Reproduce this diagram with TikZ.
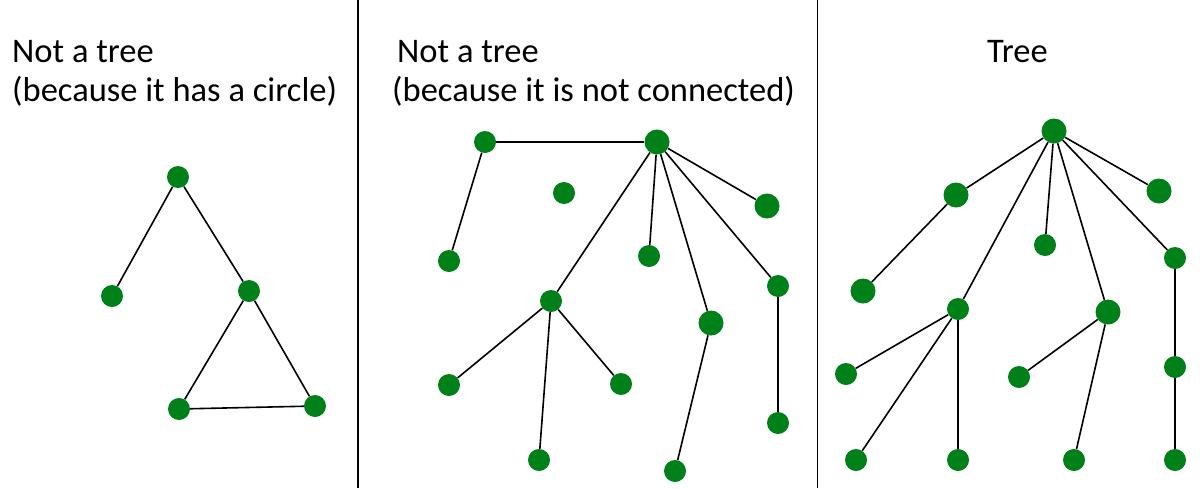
\documentclass[tikz,border=0pt]{standalone}
\usepackage{fontspec}
\setmainfont{Carlito}
\usepackage{tikz}
\definecolor{dotgreen}{RGB}{0,128,24}
\tikzset{
  dot/.style={circle,fill=dotgreen,inner sep=0pt,minimum size=22pt},
  bigdot/.style={dot,minimum size=25pt},
  edge/.style={line width=1.6pt,black},
  caption/.style={anchor=base west,inner sep=0pt,font=\fontsize{34.5}{41}\selectfont}
}
\begin{document}
\begin{tikzpicture}[x=1pt,y=-1pt]
\useasboundingbox (0,0) rectangle (1200,488);
% panel borders
\coordinate (top1) at (358,0);
\coordinate (bot1) at (358,488);
\coordinate (top2) at (817.5,0);
\coordinate (bot2) at (817.5,488);
\draw[line width=1.8pt] (top1)--(bot1);
\draw[line width=1.8pt] (top2)--(bot2);
% captions
\node[caption] (t1a) at (12,62) {Not a tree};
\node[caption] (t1b) at (12,101) {(because it has a circle)};
\node[caption] (t2a) at (397,62) {Not a tree};
\node[caption] (t2b) at (392,101) {(because it is not connected)};
\node[caption] (t3a) at (987,62) {Tree};
% circle graph
\node[dot] (c1) at (178,177) {};
\node[dot] (c2) at (112,296) {};
\node[dot] (c3) at (249,291) {};
\node[dot] (c4) at (179,409) {};
\node[dot] (c5) at (315,406) {};
\draw[edge] (c1)--(c2);
\draw[edge] (c1)--(c3);
\draw[edge] (c3)--(c4)--(c5)--(c3);
% graph that is not connected
\node[dot] (f1) at (485,142) {};
\node[bigdot] (f2) at (657,142) {};
\node[dot] (f3) at (564,193) {};
\node[dot] (f4) at (449,261) {};
\node[bigdot] (f5) at (767,206) {};
\node[dot] (f6) at (649,256) {};
\node[dot] (f7) at (778,286) {};
\node[dot] (f8) at (551,301) {};
\node[bigdot] (f9) at (711,323) {};
\node[dot] (f10) at (449,385) {};
\node[dot] (f11) at (621,384) {};
\node[dot] (f12) at (778,423) {};
\node[dot] (f13) at (539,460) {};
\node[dot] (f14) at (675,471) {};
\draw[edge] (f1)--(f2);
\draw[edge] (f1)--(f4);
\foreach \k in {5,6,7,8,9}
  \draw[edge] (f2)--(f\k);
\foreach \k in {10,11,13}
  \draw[edge] (f8)--(f\k);
\draw[edge] (f9)--(f14);
\draw[edge] (f7)--(f12);
% tree
\node[bigdot] (r0) at (1054,131) {};
\node[bigdot] (r1) at (956,195) {};
\node[bigdot] (r2) at (1159,191) {};
\node[dot] (r3) at (1045,245) {};
\node[dot] (r4) at (1175,258) {};
\node[bigdot] (r5) at (863,291) {};
\node[dot] (r6) at (958,309) {};
\node[bigdot] (r7) at (1108,312) {};
\node[dot] (r8) at (846,374) {};
\node[dot] (r9) at (1019,377) {};
\node[dot] (r10) at (1175,367) {};
\node[dot] (r11) at (856,460) {};
\node[dot] (r12) at (958,460) {};
\node[dot] (r13) at (1074,460) {};
\node[dot] (r14) at (1175,460) {};
\foreach \k in {1,2,3,4,6,7}
  \draw[edge] (r0)--(r\k);
\draw[edge] (r1)--(r5);
\foreach \k in {8,11,12}
  \draw[edge] (r6)--(r\k);
\draw[edge] (r7)--(r9);
\draw[edge] (r7)--(r13);
\draw[edge] (r4)--(r10)--(r14);
\end{tikzpicture}
\end{document}
